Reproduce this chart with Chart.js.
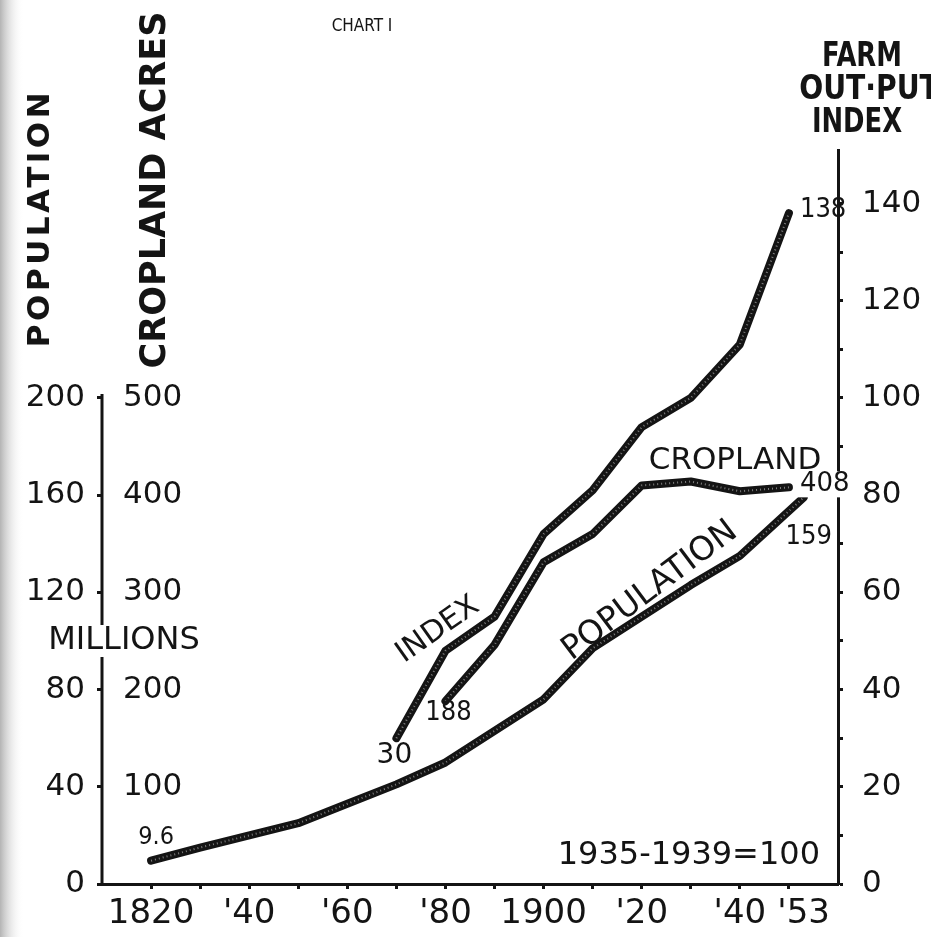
<!DOCTYPE html>
<html>
<head>
<meta charset="utf-8">
<script src="https://cdn.jsdelivr.net/npm/chart.js@4.4.0/dist/chart.umd.min.js"></script>
<style>
  html, body { margin: 0; padding: 0; background: #fff; }
  #wrap { width: 931px; height: 937px; }
</style>
</head>
<body>
<div id="wrap"><canvas id="chart" width="931" height="937"></canvas></div>
<script>
const FONT = "'DejaVu Sans', sans-serif";
const FONT_C = "'DejaVu Sans Condensed', 'DejaVu Sans', sans-serif";
const INK = "#141414";

// x axis: decade ticks, labels only on some of them
const YEAR_TICKS = [1820, 1830, 1840, 1850, 1860, 1870, 1880, 1890, 1900, 1910, 1920, 1930, 1940, 1950, 1953];
const YEAR_TICK_LABELS = ["1820", "", "'40", "", "'60", "", "'80", "", "1900", "", "'20", "", "'40", "", "'53"];

// left axes (population millions, cropland acres) and right axis (index)
const POP_TICKS = [0, 40, 80, 120, 160, 200];
const CROP_TICKS = [100, 200, 300, 400, 500];
const INDEX_TICKS = [0, 10, 20, 30, 40, 50, 60, 70, 80, 90, 100, 110, 120, 130, 140];
const INDEX_TICK_LABELS = ["0", "", "20", "", "40", "", "60", "", "80", "", "100", "", "120", "", "140"];

// series
const POP_YEARS = [1820, 1830, 1840, 1850, 1860, 1870, 1880, 1890, 1900, 1910, 1920, 1930, 1940, 1953];
const POP_MILLIONS = [9.6, 15, 20, 25, 33, 41, 50, 63, 76, 97, 110, 123, 135, 159];

const CROP_YEARS = [1880, 1890, 1900, 1910, 1920, 1930, 1940, 1950];
const CROP_ACRES = [188, 246, 331, 360, 410, 414, 404, 408];

const INDEX_YEARS = [1870, 1880, 1890, 1900, 1910, 1920, 1930, 1940, 1950];
const INDEX_VALUES = [30, 48, 55, 72, 81, 94, 100, 111, 138];

// one index point = 2 million people = 5 million acres
const INDEX_MAX = 151;

function points(xs, ys) {
  return xs.map((x, i) => ({ x: x, y: ys[i] }));
}

function lineSet(xs, ys, axis) {
  return {
    data: points(xs, ys), yAxisID: axis, order: 1,
    borderColor: INK, borderWidth: 8, pointRadius: 0,
    borderJoinStyle: "round", borderCapStyle: "round", tension: 0, fill: false
  };
}
function speckleSet(xs, ys, axis) {
  return {
    data: points(xs, ys), yAxisID: axis, order: 0,
    borderColor: "rgba(255,255,255,0.45)", borderWidth: 2, borderDash: [1, 3],
    pointRadius: 0, tension: 0, fill: false
  };
}

function text(ctx, s, x, y, size, opts) {
  opts = opts || {};
  ctx.save();
  ctx.translate(x, y);
  if (opts.angle) ctx.rotate(opts.angle * Math.PI / 180);
  if (opts.squeeze) ctx.scale(opts.squeeze, 1);
  ctx.font = (opts.weight || "normal") + " " + size + "px " + (opts.family || FONT);
  if (opts.spacing && "letterSpacing" in ctx) ctx.letterSpacing = opts.spacing + "px";
  ctx.textAlign = opts.align || "center";
  ctx.textBaseline = "middle";
  if (opts.bg) {
    const w = ctx.measureText(s).width;
    const x0 = ctx.textAlign === "left" ? 0 : ctx.textAlign === "right" ? -w : -w / 2;
    ctx.fillStyle = "#fff";
    ctx.fillRect(x0 - 3, -size * 0.5, w + 6, size);
  }
  ctx.fillStyle = INK;
  ctx.fillText(s, 0, 0);
  ctx.restore();
}

const decor = {
  id: "decor",
  beforeDraw(chart) {
    const { ctx, width, height } = chart;
    ctx.save();
    ctx.fillStyle = "#fff";
    ctx.fillRect(0, 0, width, height);
    const g = ctx.createLinearGradient(0, 0, 24, 0);
    g.addColorStop(0, "#b4b4b4");
    g.addColorStop(1, "rgba(255,255,255,0)");
    ctx.fillStyle = g;
    ctx.fillRect(0, 0, 24, height);
    ctx.restore();
  },
  afterDraw(chart) {
    const { ctx, chartArea, scales } = chart;
    const sx = v => scales.x.getPixelForValue(v);
    const sPop = v => scales.pop.getPixelForValue(v);
    const sCrop = v => scales.crop.getPixelForValue(v);
    const sIdx = v => scales.idx.getPixelForValue(v);

    // left axis line, only up to the top tick
    ctx.save();
    ctx.strokeStyle = INK;
    ctx.lineWidth = 3;
    ctx.beginPath();
    ctx.moveTo(chartArea.left, sPop(0) + 1);
    ctx.lineTo(chartArea.left, sPop(POP_TICKS[POP_TICKS.length - 1]) - 4);
    ctx.stroke();
    ctx.restore();

    // headings
    text(ctx, "CHART I", 362, 27, 17, { family: FONT_C });
    text(ctx, "POPULATION", 41, 218, 31, { angle: -90, weight: "bold", spacing: 3.5 });
    text(ctx, "CROPLAND ACRES", 156, 190, 35, { angle: -90, weight: "bold" });
    text(ctx, "FARM", 862, 57, 33, { family: FONT_C, weight: "bold", squeeze: 0.87 });
    text(ctx, "OUT\u00B7PUT", 869, 90, 33, { family: FONT_C, weight: "bold", squeeze: 0.95 });
    text(ctx, "INDEX", 857, 123, 33, { family: FONT_C, weight: "bold", squeeze: 0.87 });
    text(ctx, "MILLIONS", 124, 641, 32, { bg: true });

    // series names
    text(ctx, "INDEX", 438, 630, 30, { angle: -35 });
    text(ctx, "CROPLAND", 735, 461, 31);
    text(ctx, "POPULATION", 650, 591, 33, { angle: -37 });
    text(ctx, "1935-1939=100", 820, 856, 32, { align: "right" });

    // end values, placed from the data points
    const pEnd = POP_MILLIONS.length - 1;
    const cEnd = CROP_ACRES.length - 1;
    const iEnd = INDEX_VALUES.length - 1;
    text(ctx, "9.6", sx(POP_YEARS[0]) + 5, sPop(POP_MILLIONS[0]) - 23, 25, { family: FONT_C });
    text(ctx, "30", sx(INDEX_YEARS[0]) - 2, sIdx(INDEX_VALUES[0]) + 18, 28);
    text(ctx, "188", sx(CROP_YEARS[0]) + 3, sCrop(CROP_ACRES[0]) + 12, 27, { family: FONT_C });
    text(ctx, "138", sx(INDEX_YEARS[iEnd]) + 11, sIdx(INDEX_VALUES[iEnd]) - 3, 27, { family: FONT_C, align: "left" });
    text(ctx, "408", sx(CROP_YEARS[cEnd]) + 11, sCrop(CROP_ACRES[cEnd]) - 3, 26, { align: "left", bg: true });
    text(ctx, "159", sx(POP_YEARS[pEnd]) + 5, sPop(POP_MILLIONS[pEnd]) + 39, 27, { family: FONT_C });
  }
};

const tickFont = { family: FONT, size: 31 };

new Chart(document.getElementById("chart"), {
  type: "line",
  data: {
    datasets: [
      lineSet(POP_YEARS, POP_MILLIONS, "pop"),
      lineSet(CROP_YEARS, CROP_ACRES, "crop"),
      lineSet(INDEX_YEARS, INDEX_VALUES, "idx"),
      speckleSet(POP_YEARS, POP_MILLIONS, "pop"),
      speckleSet(CROP_YEARS, CROP_ACRES, "crop"),
      speckleSet(INDEX_YEARS, INDEX_VALUES, "idx")
    ]
  },
  options: {
    responsive: false,
    devicePixelRatio: 1,
    animation: false,
    layout: { padding: { top: 150, left: 0, right: 0, bottom: 0 } },
    plugins: { legend: { display: false }, tooltip: { enabled: false }, title: { display: false } },
    scales: {
      x: {
        type: "linear", position: "bottom", min: 1810, max: 1960,
        afterBuildTicks: s => { s.ticks = YEAR_TICKS.map(v => ({ value: v })); },
        afterFit: s => { s.height = 53; },
        ticks: {
          autoSkip: false, maxRotation: 0, minRotation: 0, padding: 5, color: INK,
          font: { family: FONT, size: 34 },
          callback: (v, i) => YEAR_TICK_LABELS[i]
        },
        grid: {
          drawOnChartArea: false, tickLength: 5, tickWidth: 3,
          tickColor: c => (c.tick && c.tick.value === 1953) ? "rgba(0,0,0,0)" : INK
        },
        border: { color: INK, width: 3 }
      },
      pop: {
        type: "linear", position: "left", weight: 1, min: 0, max: INDEX_MAX * 2,
        afterBuildTicks: s => { s.ticks = POP_TICKS.map(v => ({ value: v })); },
        afterFit: s => { s.width = 102; },
        ticks: { padding: 12, color: INK, font: tickFont },
        grid: { drawOnChartArea: false, tickLength: 5, tickWidth: 3, tickColor: INK },
        border: { display: false }
      },
      crop: {
        type: "linear", position: "left", weight: 0, min: 0, max: INDEX_MAX * 5,
        afterBuildTicks: s => { s.ticks = CROP_TICKS.map(v => ({ value: v })); },
        afterFit: s => { s.width = 0; },
        ticks: { mirror: true, padding: 21, color: INK, font: tickFont },
        grid: { display: false, drawTicks: false },
        border: { display: false }
      },
      idx: {
        type: "linear", position: "right", min: 0, max: INDEX_MAX,
        afterBuildTicks: s => { s.ticks = INDEX_TICKS.map(v => ({ value: v })); },
        afterFit: s => { s.width = 93; },
        ticks: { padding: 19, color: INK, font: tickFont, callback: (v, i) => INDEX_TICK_LABELS[i] },
        grid: { drawOnChartArea: false, tickLength: 5, tickWidth: 3, tickColor: INK },
        border: { color: INK, width: 3 }
      }
    }
  },
  plugins: [decor]
});
</script>
</body>
</html>
